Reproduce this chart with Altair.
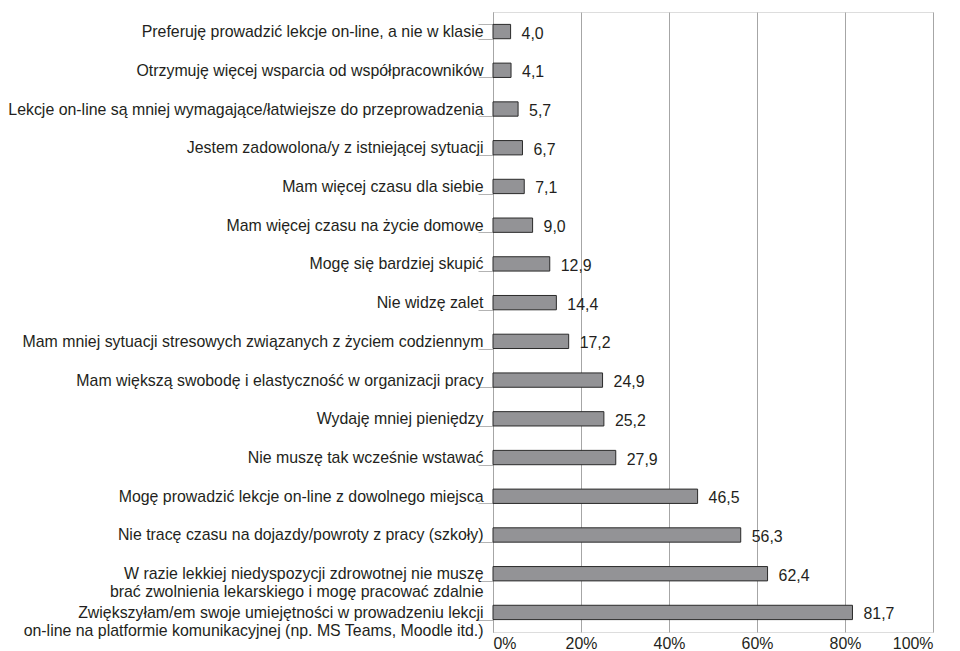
import altair as alt
import pandas as pd

categories = [
    "Preferuję prowadzić lekcje on-line, a nie w klasie",
    "Otrzymuję więcej wsparcia od współpracowników",
    "Lekcje on-line są mniej wymagające/łatwiejsze do przeprowadzenia",
    "Jestem zadowolona/y z istniejącej sytuacji",
    "Mam więcej czasu dla siebie",
    "Mam więcej czasu na życie domowe",
    "Mogę się bardziej skupić",
    "Nie widzę zalet",
    "Mam mniej sytuacji stresowych związanych z życiem codziennym",
    "Mam większą swobodę i elastyczność w organizacji pracy",
    "Wydaję mniej pieniędzy",
    "Nie muszę tak wcześnie wstawać",
    "Mogę prowadzić lekcje on-line z dowolnego miejsca",
    "Nie tracę czasu na dojazdy/powroty z pracy (szkoły)",
    "W razie lekkiej niedyspozycji zdrowotnej nie muszę|brać zwolnienia lekarskiego i mogę pracować zdalnie",
    "Zwiększyłam/em swoje umiejętności w prowadzeniu lekcji|on-line na platformie komunikacyjnej (np. MS Teams, Moodle itd.)",
]
values = [4.0, 4.1, 5.7, 6.7, 7.1, 9.0, 12.9, 14.4, 17.2, 24.9, 25.2, 27.9, 46.5, 56.3, 62.4, 81.7]
x_ticks = [0, 20, 40, 60, 80, 100]

df = pd.DataFrame({"cat": categories, "val": values})
FONT = "Liberation Sans"
TXT = "#231f20"
FS = 15.9

base = alt.Chart(df).encode(
    y=alt.Y("cat:N", sort=categories, title=None,
            scale=alt.Scale(paddingInner=0.63, paddingOuter=0.32),
            axis=alt.Axis(labelExpr="split(datum.label, '|')", tickBand="extent",
                          tickSize=15, labelPadding=-5, labelFontSize=FS,
                          labelFont=FONT, labelColor=TXT, labelLimit=0,
                          domainColor="#a6a6a6", tickColor="#b3b3b3",
                          labelLineHeight=18, grid=False)),
)

bars = base.mark_bar(color="#939396", stroke="#2a2a2a", strokeWidth=1).encode(
    x=alt.X("val:Q", title=None,
            scale=alt.Scale(domain=[0, 100], nice=False),
            axis=alt.Axis(values=x_ticks, labelExpr="datum.value + '%'", grid=True,
                          gridColor="#a6a6a6", domain=False, ticks=False,
                          labelFontSize=FS, labelFont=FONT, labelColor=TXT,
                          labelPadding=3)),
)

labels = base.transform_calculate(
    lbl="replace(format(datum.val, '.1f'), '.', ',')"
).mark_text(align="left", baseline="middle", dx=11, dy=2, fontSize=FS,
            font=FONT, color=TXT).encode(
    x=alt.X("val:Q"),
    text="lbl:N",
)

chart = (bars + labels).properties(
    width=440, height=620,
    autosize=alt.AutoSizeParams(type="none"),
    padding={"left": 485, "top": 4, "right": 5, "bottom": 19},
).configure_view(stroke=None).configure(background="white")

chart.save("out.html", embed_options={"renderer": "svg", "actions": False})
